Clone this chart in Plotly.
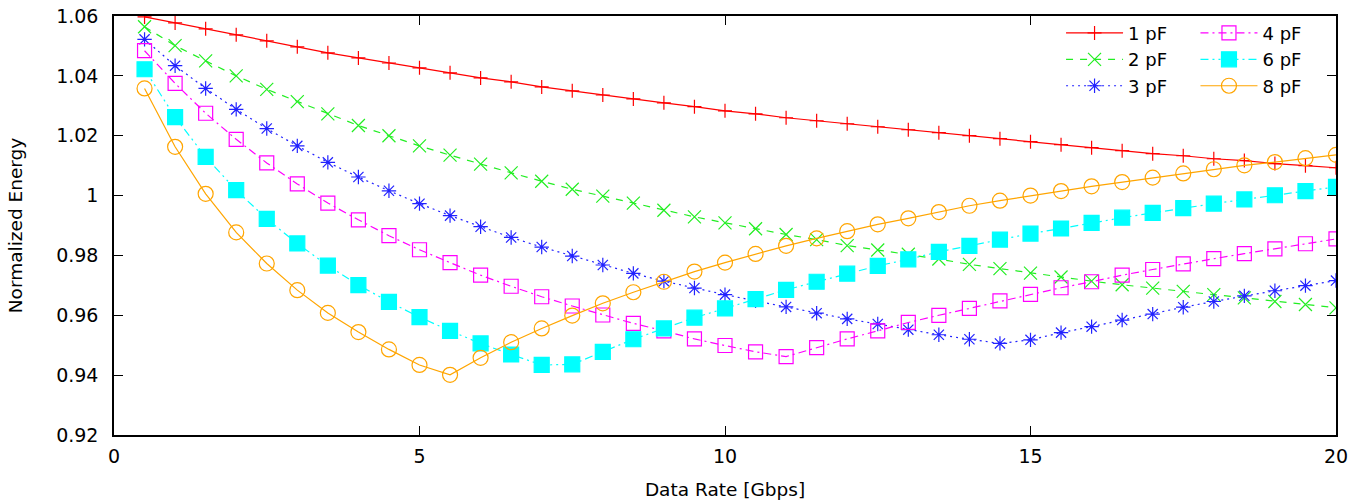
import plotly.graph_objects as go

rate = [0.5, 1, 1.5, 2, 2.5, 3, 3.5, 4, 4.5, 5, 5.5, 6, 6.5, 7, 7.5, 8, 8.5, 9, 9.5, 10,
        10.5, 11, 11.5, 12, 12.5, 13, 13.5, 14, 14.5, 15, 15.5, 16, 16.5, 17, 17.5, 18, 18.5, 19, 19.5, 20]

e_1pf = [1.0597, 1.0577, 1.0557, 1.0537, 1.0517, 1.0497, 1.0477, 1.0460, 1.0443, 1.0427,
         1.0410, 1.0393, 1.0380, 1.0363, 1.0350, 1.0336, 1.0323, 1.0310, 1.0297, 1.0283,
         1.0273, 1.0260, 1.0250, 1.0240, 1.0230, 1.0220, 1.0210, 1.0200, 1.0190, 1.0180,
         1.0170, 1.0160, 1.0150, 1.0140, 1.0133, 1.0123, 1.0117, 1.0107, 1.0100, 1.0093]
e_2pf = [1.0564, 1.0501, 1.0450, 1.0400, 1.0355, 1.0314, 1.0273, 1.0234, 1.0200, 1.0166,
         1.0135, 1.0105, 1.0076, 1.0048, 1.0021, 0.9998, 0.9975, 0.9951, 0.9929, 0.9909,
         0.9889, 0.9870, 0.9853, 0.9833, 0.9818, 0.9804, 0.9788, 0.9770, 0.9756, 0.9741,
         0.9728, 0.9714, 0.9702, 0.9691, 0.9680, 0.9669, 0.9658, 0.9646, 0.9636, 0.9625]
e_3pf = [1.0522, 1.0434, 1.0358, 1.0288, 1.0224, 1.0166, 1.0111, 1.0062, 1.0016, 0.9973,
         0.9933, 0.9896, 0.9860, 0.9828, 0.9798, 0.9768, 0.9740, 0.9714, 0.9691, 0.9669,
         0.9648, 0.9628, 0.9607, 0.9588, 0.9571, 0.9552, 0.9535, 0.9520, 0.9506, 0.9518,
         0.9542, 0.9562, 0.9584, 0.9604, 0.9627, 0.9646, 0.9665, 0.9682, 0.9699, 0.9716]
e_4pf = [1.0484, 1.0375, 1.0275, 1.0188, 1.0109, 1.0039, 0.9975, 0.9919, 0.9866, 0.9819,
         0.9776, 0.9734, 0.9697, 0.9662, 0.9631, 0.9601, 0.9573, 0.9548, 0.9521, 0.9499,
         0.9478, 0.9462, 0.9492, 0.9521, 0.9548, 0.9576, 0.9600, 0.9623, 0.9648, 0.9670,
         0.9692, 0.9712, 0.9734, 0.9753, 0.9772, 0.9789, 0.9806, 0.9822, 0.9839, 0.9855]
e_6pf = [1.0422, 1.0262, 1.0129, 1.0018, 0.9922, 0.9840, 0.9766, 0.9701, 0.9645, 0.9594,
         0.9548, 0.9506, 0.9469, 0.9434, 0.9436, 0.9478, 0.9520, 0.9556, 0.9592, 0.9623,
         0.9654, 0.9685, 0.9712, 0.9739, 0.9765, 0.9787, 0.9812, 0.9832, 0.9853, 0.9873,
         0.9890, 0.9909, 0.9926, 0.9942, 0.9958, 0.9973, 0.9987, 1.0001, 1.0015, 1.0029]
e_8pf = [1.0358, 1.0163, 1.0006, 0.9877, 0.9773, 0.9684, 0.9608, 0.9544, 0.9486, 0.9434,
         0.9401, 0.9458, 0.9510, 0.9556, 0.9599, 0.9640, 0.9677, 0.9712, 0.9746, 0.9776,
         0.9805, 0.9832, 0.9857, 0.9881, 0.9904, 0.9924, 0.9945, 0.9966, 0.9983, 1.0000,
         1.0015, 1.0031, 1.0045, 1.0060, 1.0074, 1.0088, 1.0101, 1.0112, 1.0125, 1.0136]

series_names = ["1 pF", "2 pF", "3 pF", "4 pF", "6 pF", "8 pF"]
series_values = [e_1pf, e_2pf, e_3pf, e_4pf, e_6pf, e_8pf]
colors = ["#ff0000", "#22ee22", "#2222ff", "#ff00ff", "#00ffff", "#ffa500"]
dashes = ["solid", "7px,7px", "2px,4px", "8px,4px,2px,4px", "8px,4px,2px,4px,2px,4px", "solid"]
symbols = ["cross-thin-open", "x-thin-open", "asterisk-open", "square-open", "square", "circle-open"]
sizes = [10, 13, 12, 14, 15, 15]
legends = ["legend", "legend", "legend", "legend2", "legend2", "legend2"]

y_ticks = [0.92, 0.94, 0.96, 0.98, 1.0, 1.02, 1.04, 1.06]
y_ticktext = ["0.92", "0.94", "0.96", "0.98", "1", "1.02", "1.04", "1.06"]
x_ticks = [0, 5, 10, 15, 20]

fig = go.Figure()
for name, vals, c, d, s, sz, lg in zip(series_names, series_values, colors, dashes, symbols, sizes, legends):
    fig.add_trace(go.Scatter(
        x=rate, y=vals, name=name, mode="lines+markers", legend=lg,
        line=dict(color=c, width=1.2, dash=d),
        marker=dict(symbol=s, size=sz, color=c, line=dict(color=c, width=1.2)),
    ))

tick_font = dict(family="DejaVu Sans", size=19, color="black")
title_font = dict(family="DejaVu Sans", size=18.5, color="black")
legend_font = dict(family="DejaVu Sans", size=18, color="black")
fig.update_layout(
    width=1364, height=502,
    margin=dict(l=114, r=28, t=16, b=67, autoexpand=False),
    plot_bgcolor="white", paper_bgcolor="white",
    font=tick_font,
    showlegend=True,
    legend=dict(x=0.775, y=1.003, xanchor="left", yanchor="top", bgcolor="rgba(0,0,0,0)",
                itemwidth=57, tracegroupgap=0, font=legend_font),
    legend2=dict(x=0.885, y=1.003, xanchor="left", yanchor="top", bgcolor="rgba(0,0,0,0)",
                 itemwidth=57, tracegroupgap=0, font=legend_font),
    xaxis=dict(range=[0, 20], tickvals=x_ticks, ticks="inside", ticklen=9, tickwidth=1.2,
               tickcolor="black", showline=True, linecolor="black", linewidth=1.5, mirror="ticks",
               showgrid=False, zeroline=False, automargin=False, ticklabelstandoff=3,
               title=dict(text="Data Rate [Gbps]", standoff=18, font=title_font), tickfont=tick_font),
    yaxis=dict(range=[0.92, 1.06], tickvals=y_ticks, ticktext=y_ticktext, ticks="inside", ticklen=9,
               tickwidth=1.2, tickcolor="black", showline=True, linecolor="black", linewidth=1.5,
               mirror="ticks", showgrid=False, zeroline=False, ticklabelstandoff=10, automargin=False,
               title=dict(text="Normalized Energy", standoff=29, font=title_font), tickfont=tick_font),
)

fig.write_html("out.html", config={"displayModeBar": False},
               post_script="document.body.style.margin='0';")
